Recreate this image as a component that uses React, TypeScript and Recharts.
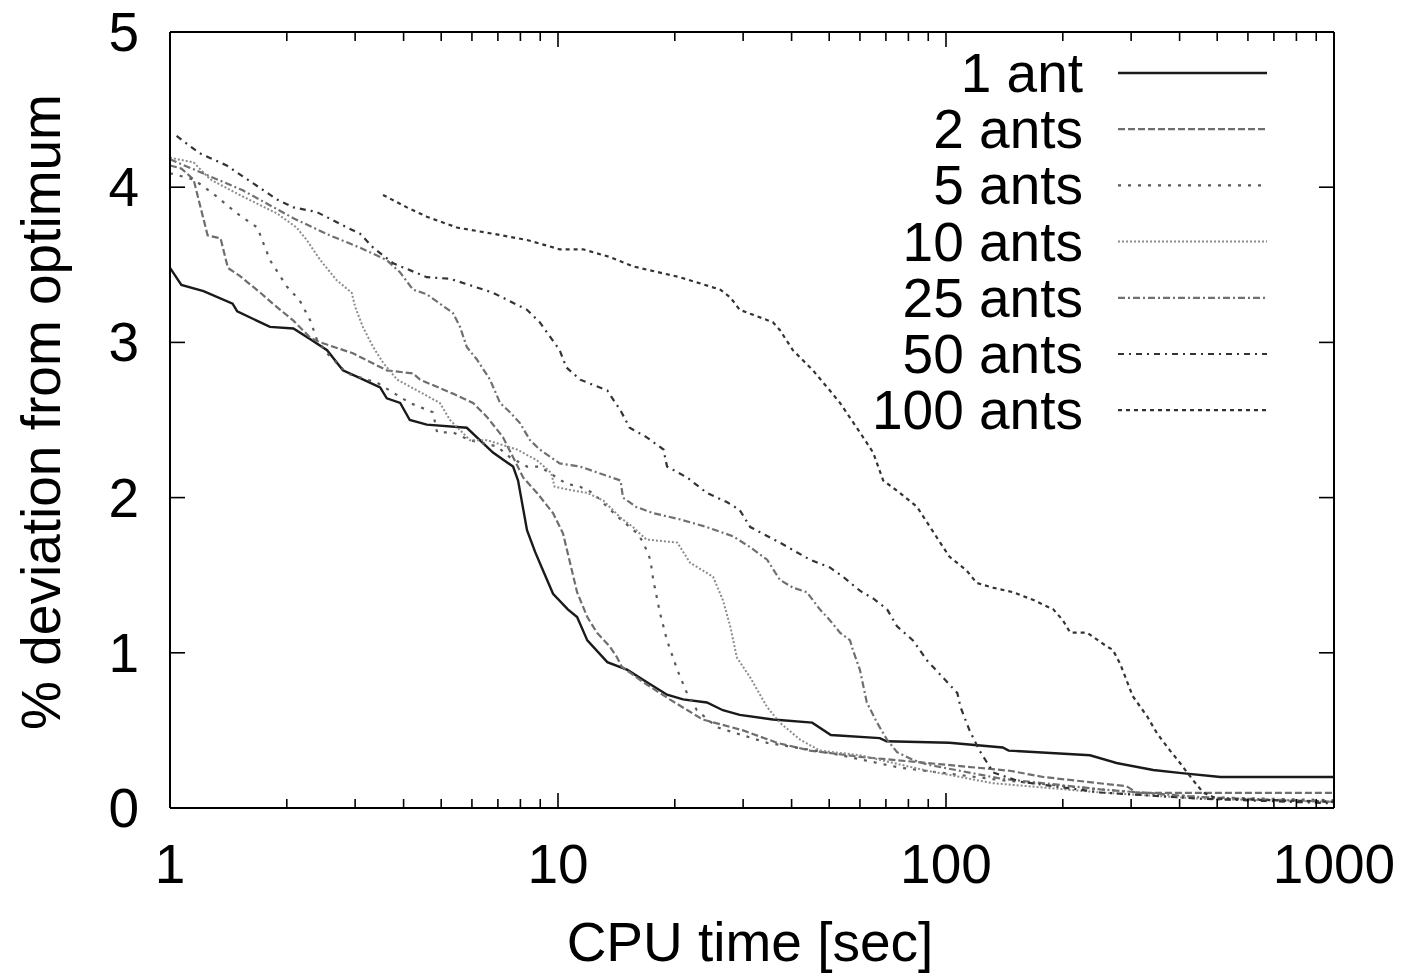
import { LineChart, Line, XAxis, YAxis, Legend } from 'recharts';

// CPU time [sec] vs % deviation from optimum
const oneAnt = [
  { t: 1.0, v: 3.48 }, { t: 1.07, v: 3.37 }, { t: 1.22, v: 3.33 }, { t: 1.45, v: 3.25 },
  { t: 1.49, v: 3.2 }, { t: 1.81, v: 3.1 }, { t: 2.08, v: 3.09 }, { t: 2.3, v: 3.02 },
  { t: 2.54, v: 2.95 }, { t: 2.79, v: 2.82 }, { t: 3.09, v: 2.77 }, { t: 3.48, v: 2.71 },
  { t: 3.62, v: 2.64 }, { t: 3.92, v: 2.61 }, { t: 4.15, v: 2.5 }, { t: 4.59, v: 2.47 },
  { t: 5.82, v: 2.45 }, { t: 6.8, v: 2.29 }, { t: 7.66, v: 2.2 }, { t: 7.89, v: 2.11 },
  { t: 8.32, v: 1.79 }, { t: 8.73, v: 1.65 }, { t: 9.15, v: 1.53 }, { t: 9.71, v: 1.38 },
  { t: 10.6, v: 1.28 }, { t: 11.2, v: 1.23 }, { t: 11.9, v: 1.08 }, { t: 13.4, v: 0.94 },
  { t: 15.1, v: 0.89 }, { t: 17.2, v: 0.8 }, { t: 19.1, v: 0.73 }, { t: 21.0, v: 0.7 },
  { t: 24.2, v: 0.68 }, { t: 26.6, v: 0.63 }, { t: 29.4, v: 0.6 }, { t: 35.8, v: 0.57 },
  { t: 45.2, v: 0.55 }, { t: 50.5, v: 0.47 }, { t: 67.5, v: 0.45 }, { t: 70.3, v: 0.43 },
  { t: 102, v: 0.42 }, { t: 140, v: 0.39 }, { t: 145, v: 0.37 }, { t: 235, v: 0.34 },
  { t: 275, v: 0.29 }, { t: 342, v: 0.245 }, { t: 405, v: 0.225 }, { t: 510, v: 0.2 },
  { t: 1000, v: 0.2 },
];

const twoAnts = [
  { t: 1.0, v: 4.14 }, { t: 1.07, v: 4.12 }, { t: 1.15, v: 4.05 }, { t: 1.25, v: 3.69 },
  { t: 1.35, v: 3.67 }, { t: 1.41, v: 3.48 }, { t: 1.51, v: 3.43 }, { t: 1.71, v: 3.32 },
  { t: 1.84, v: 3.25 }, { t: 2.08, v: 3.14 }, { t: 2.3, v: 3.03 }, { t: 2.44, v: 3.0 },
  { t: 2.96, v: 2.93 }, { t: 3.62, v: 2.82 }, { t: 4.23, v: 2.8 }, { t: 4.41, v: 2.76 },
  { t: 5.36, v: 2.67 }, { t: 6.04, v: 2.61 }, { t: 6.56, v: 2.52 }, { t: 7.21, v: 2.39 },
  { t: 7.66, v: 2.26 }, { t: 8.13, v: 2.13 }, { t: 8.83, v: 2.03 }, { t: 9.71, v: 1.9 },
  { t: 10.3, v: 1.77 }, { t: 10.6, v: 1.64 }, { t: 11.2, v: 1.39 }, { t: 11.9, v: 1.23 },
  { t: 12.6, v: 1.13 }, { t: 13.6, v: 1.04 }, { t: 14.2, v: 0.97 }, { t: 14.6, v: 0.91 },
  { t: 16.6, v: 0.81 }, { t: 19.4, v: 0.7 }, { t: 23.6, v: 0.57 }, { t: 30.0, v: 0.5 },
  { t: 36.7, v: 0.42 }, { t: 44.6, v: 0.37 }, { t: 60.0, v: 0.33 }, { t: 89.4, v: 0.29 },
  { t: 146, v: 0.24 }, { t: 178, v: 0.2 }, { t: 292, v: 0.14 }, { t: 311, v: 0.097 },
  { t: 1000, v: 0.097 },
];

const fiveAnts = [
  { t: 1.0, v: 4.09 }, { t: 1.15, v: 4.05 }, { t: 1.29, v: 3.96 }, { t: 1.49, v: 3.83 },
  { t: 1.68, v: 3.74 }, { t: 1.74, v: 3.64 }, { t: 1.81, v: 3.53 }, { t: 2.0, v: 3.36 },
  { t: 2.16, v: 3.27 }, { t: 2.3, v: 3.14 }, { t: 2.39, v: 3.02 }, { t: 2.54, v: 2.93 },
  { t: 2.86, v: 2.8 }, { t: 3.42, v: 2.74 }, { t: 4.15, v: 2.61 }, { t: 4.76, v: 2.55 },
  { t: 4.88, v: 2.42 }, { t: 5.36, v: 2.42 }, { t: 5.93, v: 2.37 }, { t: 6.96, v: 2.33 },
  { t: 7.52, v: 2.26 }, { t: 8.32, v: 2.2 }, { t: 8.97, v: 2.2 }, { t: 10.5, v: 2.09 },
  { t: 11.4, v: 2.07 }, { t: 12.3, v: 2.03 }, { t: 13.4, v: 1.94 }, { t: 14.5, v: 1.86 },
  { t: 16.0, v: 1.77 }, { t: 16.6, v: 1.71 }, { t: 17.3, v: 1.6 }, { t: 17.6, v: 1.47 },
  { t: 18.3, v: 1.26 }, { t: 19.1, v: 1.08 }, { t: 20.3, v: 0.89 }, { t: 21.5, v: 0.74 },
  { t: 22.8, v: 0.63 }, { t: 25.7, v: 0.52 }, { t: 34.6, v: 0.42 }, { t: 51.2, v: 0.35 },
  { t: 76.1, v: 0.26 }, { t: 138, v: 0.18 }, { t: 250, v: 0.12 }, { t: 452, v: 0.07 },
  { t: 1000, v: 0.05 },
];

const tenAnts = [
  { t: 1.0, v: 4.19 }, { t: 1.15, v: 4.16 }, { t: 1.27, v: 4.05 }, { t: 1.54, v: 3.94 },
  { t: 1.89, v: 3.83 }, { t: 2.12, v: 3.74 }, { t: 2.25, v: 3.66 }, { t: 2.44, v: 3.53 },
  { t: 2.69, v: 3.4 }, { t: 2.94, v: 3.32 }, { t: 3.0, v: 3.23 }, { t: 3.14, v: 3.1 },
  { t: 3.34, v: 2.97 }, { t: 3.54, v: 2.87 }, { t: 3.85, v: 2.76 }, { t: 4.41, v: 2.68 },
  { t: 4.96, v: 2.61 }, { t: 5.27, v: 2.5 }, { t: 5.93, v: 2.37 }, { t: 6.56, v: 2.37 },
  { t: 7.84, v: 2.31 }, { t: 8.83, v: 2.24 }, { t: 9.6, v: 2.16 }, { t: 9.8, v: 2.07 },
  { t: 10.7, v: 2.05 }, { t: 11.9, v: 2.03 }, { t: 13.1, v: 1.98 }, { t: 14.5, v: 1.87 },
  { t: 15.6, v: 1.81 }, { t: 16.9, v: 1.73 }, { t: 20.3, v: 1.71 }, { t: 21.9, v: 1.58 },
  { t: 25.1, v: 1.49 }, { t: 26.6, v: 1.34 }, { t: 27.8, v: 1.17 }, { t: 28.9, v: 0.97 },
  { t: 31.3, v: 0.84 }, { t: 34.6, v: 0.65 }, { t: 37.3, v: 0.55 }, { t: 42.1, v: 0.44 },
  { t: 47.3, v: 0.37 }, { t: 60.0, v: 0.34 }, { t: 89.4, v: 0.24 }, { t: 132, v: 0.16 },
  { t: 250, v: 0.1 }, { t: 452, v: 0.06 }, { t: 1000, v: 0.04 },
];

const twentyFiveAnts = [
  { t: 1.0, v: 4.18 }, { t: 1.54, v: 3.98 }, { t: 2.08, v: 3.8 }, { t: 2.58, v: 3.69 },
  { t: 3.09, v: 3.61 }, { t: 3.62, v: 3.53 }, { t: 3.92, v: 3.45 }, { t: 4.23, v: 3.34 },
  { t: 4.59, v: 3.31 }, { t: 5.36, v: 3.19 }, { t: 5.59, v: 3.1 }, { t: 5.82, v: 2.97 },
  { t: 6.18, v: 2.89 }, { t: 6.68, v: 2.76 }, { t: 7.09, v: 2.61 }, { t: 7.52, v: 2.55 },
  { t: 7.98, v: 2.48 }, { t: 8.47, v: 2.37 }, { t: 8.97, v: 2.31 }, { t: 10.1, v: 2.22 },
  { t: 11.4, v: 2.2 }, { t: 14.5, v: 2.11 }, { t: 14.7, v: 2.0 }, { t: 15.9, v: 1.94 },
  { t: 17.6, v: 1.9 }, { t: 20.6, v: 1.86 }, { t: 24.2, v: 1.81 }, { t: 28.3, v: 1.75 },
  { t: 31.3, v: 1.68 }, { t: 34.6, v: 1.6 }, { t: 37.3, v: 1.47 }, { t: 40.3, v: 1.42 },
  { t: 43.8, v: 1.39 }, { t: 47.3, v: 1.28 }, { t: 50.2, v: 1.21 }, { t: 53.3, v: 1.13 },
  { t: 56.6, v: 1.08 }, { t: 57.5, v: 1.02 }, { t: 60.0, v: 0.89 }, { t: 62.5, v: 0.68 },
  { t: 66.4, v: 0.55 }, { t: 70.5, v: 0.44 }, { t: 74.8, v: 0.36 }, { t: 82.2, v: 0.31 },
  { t: 89.4, v: 0.28 }, { t: 138, v: 0.19 }, { t: 250, v: 0.12 }, { t: 452, v: 0.07 },
  { t: 1000, v: 0.04 },
];

const fiftyAnts = [
  { t: 1.04, v: 4.33 }, { t: 1.19, v: 4.22 }, { t: 1.4, v: 4.14 }, { t: 1.54, v: 4.07 },
  { t: 1.89, v: 3.92 }, { t: 2.08, v: 3.87 }, { t: 2.39, v: 3.84 }, { t: 2.86, v: 3.74 },
  { t: 3.09, v: 3.7 }, { t: 3.34, v: 3.61 }, { t: 3.76, v: 3.51 }, { t: 4.59, v: 3.42 },
  { t: 5.27, v: 3.41 }, { t: 6.8, v: 3.32 }, { t: 8.32, v: 3.21 }, { t: 8.97, v: 3.13 },
  { t: 10.1, v: 2.95 }, { t: 10.5, v: 2.84 }, { t: 11.4, v: 2.76 }, { t: 13.4, v: 2.69 },
  { t: 14.5, v: 2.56 }, { t: 15.3, v: 2.45 }, { t: 16.9, v: 2.39 }, { t: 18.7, v: 2.31 },
  { t: 19.1, v: 2.2 }, { t: 21.5, v: 2.13 }, { t: 24.2, v: 2.03 }, { t: 27.3, v: 1.97 },
  { t: 29.4, v: 1.92 }, { t: 31.3, v: 1.81 }, { t: 37.3, v: 1.71 }, { t: 44.6, v: 1.6 },
  { t: 50.2, v: 1.55 }, { t: 54.3, v: 1.49 }, { t: 60.0, v: 1.4 }, { t: 64.9, v: 1.35 },
  { t: 70.5, v: 1.28 }, { t: 74.8, v: 1.17 }, { t: 82.2, v: 1.08 }, { t: 89.4, v: 0.95 },
  { t: 98.3, v: 0.84 }, { t: 107, v: 0.74 }, { t: 109, v: 0.65 }, { t: 115, v: 0.5 },
  { t: 122, v: 0.37 }, { t: 130, v: 0.26 }, { t: 132, v: 0.23 }, { t: 155, v: 0.17 },
  { t: 250, v: 0.1 }, { t: 452, v: 0.06 }, { t: 1000, v: 0.03 },
];

const hundredAnts = [
  { t: 3.54, v: 3.95 }, { t: 4.08, v: 3.87 }, { t: 4.59, v: 3.81 }, { t: 5.49, v: 3.74 },
  { t: 6.8, v: 3.7 }, { t: 8.32, v: 3.66 }, { t: 10.1, v: 3.6 }, { t: 11.6, v: 3.6 },
  { t: 13.6, v: 3.55 }, { t: 15.6, v: 3.49 }, { t: 20.6, v: 3.42 }, { t: 26.2, v: 3.34 },
  { t: 27.8, v: 3.29 }, { t: 29.4, v: 3.21 }, { t: 35.8, v: 3.13 }, { t: 37.3, v: 3.08 },
  { t: 40.3, v: 2.95 }, { t: 45.4, v: 2.82 }, { t: 50.2, v: 2.69 }, { t: 53.3, v: 2.61 },
  { t: 60.0, v: 2.42 }, { t: 64.9, v: 2.29 }, { t: 68.9, v: 2.11 }, { t: 76.1, v: 2.03 },
  { t: 84.2, v: 1.94 }, { t: 91.0, v: 1.81 }, { t: 96.6, v: 1.71 }, { t: 102, v: 1.62 },
  { t: 113, v: 1.53 }, { t: 120, v: 1.45 }, { t: 132, v: 1.42 }, { t: 149, v: 1.39 },
  { t: 168, v: 1.34 }, { t: 189, v: 1.28 }, { t: 200, v: 1.21 }, { t: 209, v: 1.13 },
  { t: 231, v: 1.13 }, { t: 260, v: 1.04 }, { t: 269, v: 1.02 }, { t: 281, v: 0.93 },
  { t: 303, v: 0.72 }, { t: 330, v: 0.59 }, { t: 350, v: 0.48 }, { t: 378, v: 0.37 },
  { t: 401, v: 0.29 }, { t: 433, v: 0.18 }, { t: 460, v: 0.1 }, { t: 499, v: 0.06 },
  { t: 1000, v: 0.04 },
];

const xTicks = [1, 2, 3, 4, 5, 6, 7, 8, 9, 10, 20, 30, 40, 50, 60, 70, 80, 90, 100, 200, 300, 400, 500, 600, 700, 800, 900, 1000];
const yTicks = [0, 1, 2, 3, 4, 5];

const series = [
  { name: '1 ant', data: oneAnt, stroke: '#1a1a1a', width: 2.4, dash: undefined },
  { name: '2 ants', data: twoAnts, stroke: '#6e6e6e', width: 2.2, dash: '7 3' },
  { name: '5 ants', data: fiveAnts, stroke: '#5a5a5a', width: 2.2, dash: '3 7' },
  { name: '10 ants', data: tenAnts, stroke: '#8c8c8c', width: 2, dash: '2 2' },
  { name: '25 ants', data: twentyFiveAnts, stroke: '#707070', width: 2.2, dash: '7 3 2 3' },
  { name: '50 ants', data: fiftyAnts, stroke: '#333333', width: 2.2, dash: '6 5 2 5' },
  { name: '100 ants', data: hundredAnts, stroke: '#333333', width: 2.2, dash: '4 4' },
];

const FONT = '"Liberation Sans", Arial, Helvetica, sans-serif';
const FS = 55;

const isMajor = (v: number) => Number.isInteger(Math.log10(v));

function BottomTick({ x, y, payload }: any) {
  const major = isMajor(payload.value);
  return (
    <g>
      <line x1={x} x2={x} y1={y} y2={y - (major ? 15 : 9)} stroke="#000" strokeWidth={1.6} />
      {major && (
        <text x={x} y={y + 75} textAnchor="middle" fontSize={FS} fontFamily={FONT} fill="#000">
          {payload.value}
        </text>
      )}
    </g>
  );
}

function TopTick({ x, y, payload }: any) {
  const major = isMajor(payload.value);
  return <line x1={x} x2={x} y1={y} y2={y + (major ? 15 : 9)} stroke="#000" strokeWidth={1.6} />;
}

function LeftTick({ x, y, payload }: any) {
  return (
    <g>
      <line x1={x} x2={x + 15} y1={y} y2={y} stroke="#000" strokeWidth={1.6} />
      <text x={x - 31} y={y + 19} textAnchor="end" fontSize={FS} fontFamily={FONT} fill="#000">
        {payload.value}
      </text>
    </g>
  );
}

function RightTick({ x, y }: any) {
  return <line x1={x} x2={x - 15} y1={y} y2={y} stroke="#000" strokeWidth={1.6} />;
}

function XLabel({ viewBox }: any) {
  const cx = viewBox.x + viewBox.width / 2 - 2;
  return (
    <text x={cx} y={viewBox.y + 153} textAnchor="middle" fontSize={FS} fontFamily={FONT} fill="#000">
      CPU time [sec]
    </text>
  );
}

function YLabel({ viewBox }: any) {
  const cy = viewBox.y + viewBox.height / 2 - 8;
  return (
    <text
      x={60}
      y={cy}
      transform={`rotate(-90 60 ${cy})`}
      textAnchor="middle"
      fontSize={FS}
      fontFamily={FONT}
      fill="#000"
    >
      % deviation from optimum
    </text>
  );
}

function KeyBox() {
  return (
    <svg width={1401} height={450} style={{ display: 'block' }}>
      {series.map((s, i) => {
        const rowY = 73 + i * 56.2;
        return (
          <g key={s.name}>
            <text x={1083} y={rowY + 19} textAnchor="end" fontSize={FS} fontFamily={FONT} fill="#000">
              {s.name}
            </text>
            <line
              x1={1118}
              x2={1267}
              y1={rowY}
              y2={rowY}
              stroke={s.stroke}
              strokeWidth={s.width}
              strokeDasharray={s.dash}
            />
          </g>
        );
      })}
    </svg>
  );
}

export default function App() {
  return (
    <div style={{ position: 'absolute', left: 0, top: 0, width: 1401, height: 977, background: '#fff' }}>
      <LineChart width={1401} height={977} margin={{ top: 31, right: 66, bottom: 0, left: 0 }}>
        <XAxis
          dataKey="t"
          type="number"
          scale="log"
          domain={[1, 1000]}
          allowDataOverflow
          ticks={xTicks}
          interval={0}
          height={169}
          tickSize={0}
          tickMargin={0}
          tickLine={false}
          tick={<BottomTick />}
          axisLine={{ stroke: '#000', strokeWidth: 2 }}
          label={{ value: 'CPU time [sec]', content: <XLabel /> }}
        />
        <XAxis
          xAxisId="top"
          dataKey="t"
          orientation="top"
          type="number"
          scale="log"
          domain={[1, 1000]}
          allowDataOverflow
          ticks={xTicks}
          interval={0}
          height={1}
          tickSize={0}
          tickMargin={0}
          tickLine={false}
          tick={<TopTick />}
          axisLine={{ stroke: '#000', strokeWidth: 2 }}
        />
        <YAxis
          type="number"
          domain={[0, 5]}
          allowDataOverflow
          ticks={yTicks}
          interval={0}
          width={170}
          tickSize={0}
          tickMargin={0}
          tickLine={false}
          tick={<LeftTick />}
          axisLine={{ stroke: '#000', strokeWidth: 2 }}
          label={{ value: '% deviation from optimum', content: <YLabel /> }}
        />
        <YAxis
          yAxisId="right"
          orientation="right"
          type="number"
          domain={[0, 5]}
          allowDataOverflow
          ticks={yTicks}
          interval={0}
          width={1}
          tickSize={0}
          tickMargin={0}
          tickLine={false}
          tick={<RightTick />}
          axisLine={{ stroke: '#000', strokeWidth: 2 }}
        />
        <Legend
          layout="horizontal"
          verticalAlign="middle"
          align="center"
          wrapperStyle={{ left: 0, top: 0, width: 1401, height: 450, pointerEvents: 'none' }}
          content={() => <KeyBox />}
        />
        {series.map((s) => (
          <Line
            key={s.name}
            name={s.name}
            data={s.data}
            dataKey="v"
            type="linear"
            stroke={s.stroke}
            strokeWidth={s.width}
            strokeDasharray={s.dash}
            dot={false}
            activeDot={false}
            legendType="line"
            isAnimationActive={false}
          />
        ))}
        {/* invisible series bound to the mirror axes so they get drawn */}
        <Line
          xAxisId="top"
          yAxisId="right"
          data={oneAnt}
          dataKey="v"
          stroke="none"
          dot={false}
          activeDot={false}
          legendType="none"
          isAnimationActive={false}
        />
      </LineChart>
    </div>
  );
}
